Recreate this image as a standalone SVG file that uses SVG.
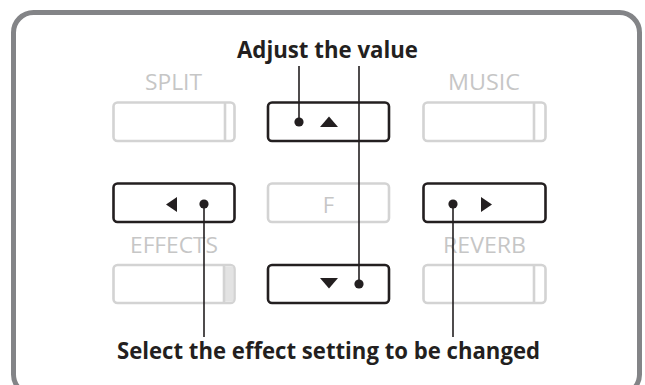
<svg xmlns="http://www.w3.org/2000/svg" width="645" height="385" viewBox="0 0 645 385">
<style>
.frame{fill:#fff;stroke:#838487;stroke-width:5}
.on{fill:#fff;stroke:#231f20;stroke-width:2.6}
.off{fill:#fff;stroke:#d3d3d3;stroke-width:2.6}
.div{stroke:#d3d3d3;stroke-width:2.6}
.lbl{font-family:"Open Sans","Liberation Sans",sans-serif;font-size:22px;fill:#c6c6c6;text-anchor:middle}
.cap{font-family:"Open Sans","Liberation Sans",sans-serif;font-weight:bold;font-size:23.5px;fill:#231f20;text-anchor:middle}
.ln{stroke:#231f20;stroke-width:1.6;fill:none}
.dot{fill:#231f20}
.tri{fill:#231f20}
</style>
<rect class="frame" x="13.5" y="12.5" width="626" height="382" rx="20"/>
<g id="caption-top"><text class="cap" x="327.5" y="57.5" textLength="181" lengthAdjust="spacingAndGlyphs">Adjust the value</text></g>
<g id="caption-bottom"><text class="cap" x="328.5" y="358.5" textLength="423" lengthAdjust="spacingAndGlyphs">Select the effect setting to be changed</text></g>
<g id="split">
<text class="lbl" x="173.5" y="90" textLength="57" lengthAdjust="spacingAndGlyphs">SPLIT</text>
<rect class="off" x="113.5" y="102.5" width="121" height="38.5" rx="4"/>
<line class="div" x1="225" y1="102.5" x2="225" y2="141"/>
</g>
<g id="up">
<rect class="on" x="268" y="102.5" width="121" height="38.5" rx="4"/>
<polygon class="tri" points="320,127 338,127 329,116.5"/>
</g>
<g id="music">
<text class="lbl" x="484" y="90" textLength="72" lengthAdjust="spacingAndGlyphs">MUSIC</text>
<rect class="off" x="423.5" y="102.5" width="122" height="38.5" rx="4"/>
<line class="div" x1="534" y1="102.5" x2="534" y2="141"/>
</g>
<g id="left">
<rect class="on" x="113.5" y="183.5" width="121" height="38.5" rx="4"/>
<polygon class="tri" points="177,197 177,212 166,204.5"/>
</g>
<g id="f">
<rect class="off" x="268" y="183.5" width="121" height="38.5" rx="4"/>
<text class="lbl" x="328.5" y="212.5">F</text>
</g>
<g id="right">
<rect class="on" x="423.5" y="183.5" width="122" height="38.5" rx="4"/>
<polygon class="tri" points="481,197 481,212 492,204.5"/>
</g>
<g id="effects">
<text class="lbl" x="174" y="253" textLength="88" lengthAdjust="spacingAndGlyphs">EFFECTS</text>
<rect class="off" x="113.5" y="265" width="121" height="38" rx="4"/>
<rect x="224" y="266.3" width="9.2" height="35.4" fill="#e3e3e3"/>
<line class="div" x1="224" y1="265" x2="224" y2="303"/>
</g>
<g id="down">
<rect class="on" x="268" y="265" width="121" height="38" rx="4"/>
<polygon class="tri" points="320,278 338,278 329,288.5"/>
</g>
<g id="reverb">
<text class="lbl" x="484.5" y="253" textLength="83" lengthAdjust="spacingAndGlyphs">REVERB</text>
<rect class="off" x="423.5" y="265" width="122" height="38" rx="4"/>
<line class="div" x1="534" y1="265" x2="534" y2="303"/>
</g>
<g id="connectors">
<line class="ln" x1="299" y1="66" x2="299" y2="122"/>
<circle class="dot" cx="299" cy="122" r="4.6"/>
<line class="ln" x1="359" y1="66" x2="359" y2="284"/>
<circle class="dot" cx="359" cy="284" r="4.6"/>
<line class="ln" x1="204" y1="204" x2="204" y2="337"/>
<circle class="dot" cx="204" cy="204" r="4.6"/>
<line class="ln" x1="453" y1="204" x2="453" y2="337"/>
<circle class="dot" cx="453" cy="204" r="4.6"/>
</g>
</svg>
